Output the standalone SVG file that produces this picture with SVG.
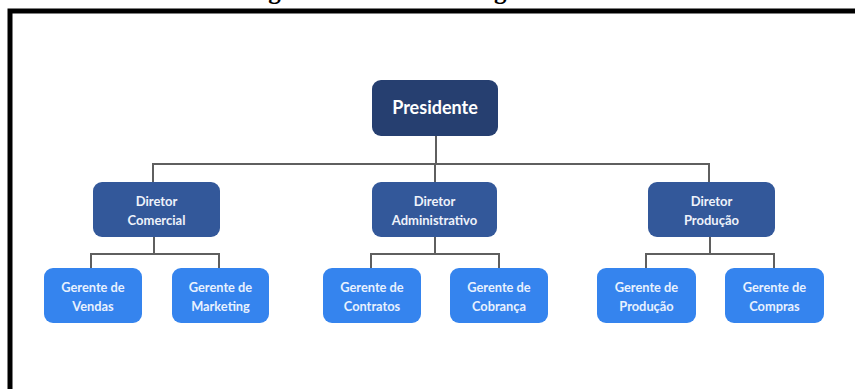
<svg xmlns="http://www.w3.org/2000/svg" width="855" height="389" viewBox="0 0 855 389">
<style>
.title{font-family:"Liberation Serif","Times New Roman",serif;font-weight:bold;font-size:25px;fill:#000}
.frame{fill:none;stroke:#000;stroke-width:5}
.conn{fill:none;stroke:#5f5f5f;stroke-width:2}
.pres{fill:#263f70}
.dir{fill:#33589a}
.mgr{fill:#3584ee}
.t{font-family:Lato,"Open Sans","DejaVu Sans",sans-serif;fill:#fff;text-anchor:middle}
.tp{font-size:18px;font-weight:bold}
.td{font-size:13px;font-weight:bold;fill:#eef2fa}
.tm{font-size:12.8px;font-weight:bold;fill:#e8f1fe}
</style>
<rect width="855" height="389" fill="#fff"/>
<text class="title" x="246" y="-1">Figura 1: Estrutura Organizacional</text>
<path class="frame" d="M10,389 V11 H855"/>
<g id="connectors">
<path class="conn" d="M436,136 V164"/>
<path class="conn" d="M153,182 V164 H709 V182"/>
<path class="conn" d="M435,164 V182"/>
<path class="conn" d="M154,237 V254"/>
<path class="conn" d="M91,268 V254 H219 V268"/>
<path class="conn" d="M435,237 V254"/>
<path class="conn" d="M371,268 V254 H499 V268"/>
<path class="conn" d="M710,237 V254"/>
<path class="conn" d="M646,268 V254 H774 V268"/>
</g>
<g id="presidente">
<rect class="pres" x="372" y="80" width="126" height="56" rx="9"/>
<text class="t tp" x="435" y="114">Presidente</text>
</g>
<g id="diretor-comercial">
<rect class="dir" x="93" y="182" width="127" height="55" rx="9"/>
<text class="t td" x="156.5" y="206">Diretor</text>
<text class="t td" x="156.5" y="224.5">Comercial</text>
</g>
<g id="diretor-administrativo">
<rect class="dir" x="372" y="182" width="125" height="55" rx="9"/>
<text class="t td" x="434.5" y="206">Diretor</text>
<text class="t td" x="434.5" y="224.5">Administrativo</text>
</g>
<g id="diretor-producao">
<rect class="dir" x="648" y="182" width="127" height="55" rx="9"/>
<text class="t td" x="711.5" y="206">Diretor</text>
<text class="t td" x="711.5" y="224.5">Produção</text>
</g>
<g id="gerente-vendas">
<rect class="mgr" x="44" y="268" width="98" height="55" rx="9"/>
<text class="t tm" x="93" y="292">Gerente de</text>
<text class="t tm" x="93" y="311">Vendas</text>
</g>
<g id="gerente-marketing">
<rect class="mgr" x="172" y="268" width="97" height="55" rx="9"/>
<text class="t tm" x="220.5" y="292">Gerente de</text>
<text class="t tm" x="220.5" y="311">Marketing</text>
</g>
<g id="gerente-contratos">
<rect class="mgr" x="323" y="268" width="98" height="55" rx="9"/>
<text class="t tm" x="372" y="292">Gerente de</text>
<text class="t tm" x="372" y="311">Contratos</text>
</g>
<g id="gerente-cobranca">
<rect class="mgr" x="450" y="268" width="98" height="55" rx="9"/>
<text class="t tm" x="499" y="292">Gerente de</text>
<text class="t tm" x="499" y="311">Cobrança</text>
</g>
<g id="gerente-producao">
<rect class="mgr" x="597" y="268" width="99" height="55" rx="9"/>
<text class="t tm" x="646.5" y="292">Gerente de</text>
<text class="t tm" x="646.5" y="311">Produção</text>
</g>
<g id="gerente-compras">
<rect class="mgr" x="725" y="268" width="99" height="55" rx="9"/>
<text class="t tm" x="774.5" y="292">Gerente de</text>
<text class="t tm" x="774.5" y="311">Compras</text>
</g>
</svg>
